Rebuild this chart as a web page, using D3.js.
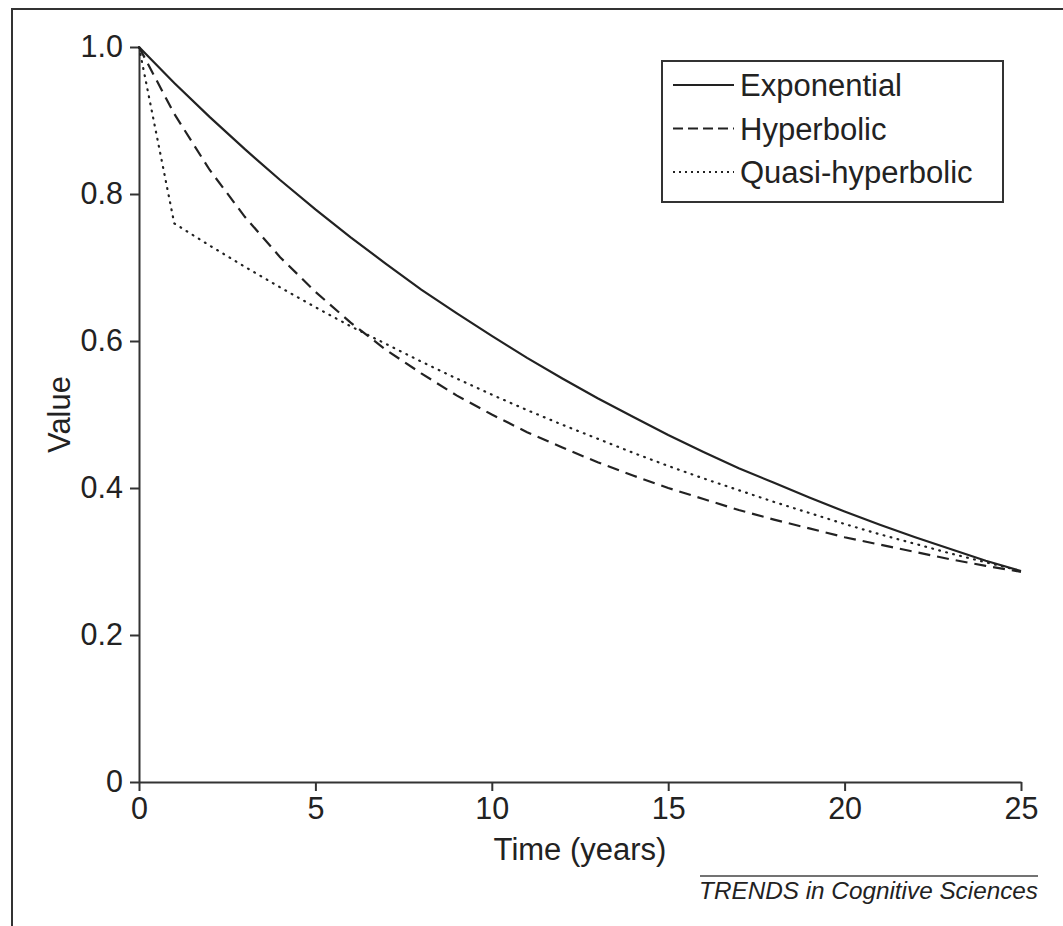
<!DOCTYPE html>
<html>
<head>
    <style>
        body {
            margin: 0;
            background-color: #fff;
            font-family: "Liberation Sans", Arial, sans-serif;
        }

        .axis path,
        .axis line {
            stroke: #333;
            stroke-width: 2px;
        }

        .axis text {
            font-family: "Liberation Sans", Arial, sans-serif;
            font-size: 30.5px;
            fill: #222;
        }

        .curve {
            fill: none;
            stroke: #222;
            stroke-width: 2.2px;
        }
    </style>
</head>
<body>
    <div id="chart"></div>

    <script src="https://d3js.org/d3.v7.min.js"></script>
    <script>
        // years 0..25, values
        var years = d3.range(0, 26);

        var exponential = [1.000, 0.951, 0.905, 0.861, 0.819, 0.779, 0.741, 0.705, 0.670, 0.638,
            0.607, 0.577, 0.549, 0.522, 0.497, 0.472, 0.449, 0.427, 0.407, 0.387,
            0.368, 0.350, 0.333, 0.317, 0.301, 0.287];

        var hyperbolic = [1.000, 0.909, 0.833, 0.769, 0.714, 0.667, 0.625, 0.588, 0.556, 0.526,
            0.500, 0.476, 0.455, 0.435, 0.417, 0.400, 0.385, 0.370, 0.357, 0.345,
            0.333, 0.323, 0.313, 0.303, 0.294, 0.286];

        var quasiHyperbolic = [1.000, 0.760, 0.730, 0.701, 0.673, 0.646, 0.620, 0.596, 0.572, 0.549,
            0.527, 0.506, 0.486, 0.467, 0.448, 0.430, 0.413, 0.397, 0.381, 0.366,
            0.351, 0.337, 0.324, 0.311, 0.299, 0.287];

        var seriesNames = ["Exponential", "Hyperbolic", "Quasi-hyperbolic"];
        var dashes = [null, "12,7", "0.8,6.4"];

        var xTicks = [0, 5, 10, 15, 20, 25];
        var yTicks = [0, 0.2, 0.4, 0.6, 0.8, 1.0];

        var width = 1063, height = 926;
        var margin = {top: 47, right: 42, bottom: 144, left: 139};

        var svg = d3.select("#chart").append("svg")
            .attr("width", width)
            .attr("height", height);

        // outer frame (only top and left edges are visible)
        svg.append("path")
            .attr("d", "M12," + height + " L12,9 L" + width + ",9")
            .attr("fill", "none")
            .attr("stroke", "#333")
            .attr("stroke-width", 2);

        var x = d3.scaleLinear()
            .domain([0, 25])
            .range([margin.left, width - margin.right]);

        var y = d3.scaleLinear()
            .domain([0, 1])
            .range([height - margin.bottom, margin.top]);

        svg.append("g")
            .attr("class", "axis")
            .attr("transform", "translate(0," + y(0) + ")")
            .call(d3.axisBottom(x).tickValues(xTicks).tickSize(9).tickSizeOuter(0).tickPadding(6));

        svg.append("g")
            .attr("class", "axis")
            .attr("transform", "translate(" + x(0) + ",0)")
            .call(d3.axisLeft(y).tickValues(yTicks).tickSize(9).tickSizeOuter(0).tickPadding(7)
                .tickFormat(function(d) { return d === 0 ? "0" : d3.format(".1f")(d); }));

        svg.selectAll(".axis .domain").attr("stroke-width", 2);

        // axis titles
        svg.append("text")
            .attr("x", (x(0) + x(25)) / 2)
            .attr("y", 860)
            .attr("text-anchor", "middle")
            .attr("font-size", 31)
            .attr("fill", "#222")
            .text("Time (years)");

        svg.append("text")
            .attr("transform", "translate(70," + (y(0) + y(1)) / 2 + ") rotate(-90)")
            .attr("text-anchor", "middle")
            .attr("font-size", 31)
            .attr("fill", "#222")
            .text("Value");

        // curves
        var line = d3.line()
            .x(function(d, i) { return x(years[i]); })
            .y(function(d) { return y(d); });

        var allSeries = [exponential, hyperbolic, quasiHyperbolic];

        svg.selectAll("path.curve")
            .data(allSeries)
            .enter().append("path")
            .attr("class", "curve")
            .attr("d", line)
            .attr("stroke-dasharray", function(d, i) { return dashes[i]; })
            .attr("stroke-width", function(d, i) { return i === 2 ? 2.8 : 2.2; })
            .attr("stroke-linecap", function(d, i) { return i === 2 ? "round" : "butt"; });

        // legend
        var legend = svg.append("g").attr("transform", "translate(662,61)");

        legend.append("rect")
            .attr("width", 341)
            .attr("height", 141)
            .attr("fill", "#fff")
            .attr("stroke", "#333")
            .attr("stroke-width", 2);

        var item = legend.selectAll("g.item")
            .data(seriesNames)
            .enter().append("g")
            .attr("class", "item")
            .attr("transform", function(d, i) { return "translate(0," + (24 + i * 43.5) + ")"; });

        item.append("line")
            .attr("x1", 11)
            .attr("x2", 72)
            .attr("stroke", "#222")
            .attr("stroke-width", 2)
            .attr("stroke-dasharray", function(d, i) { return i === 1 ? "10,5" : (i === 2 ? "2,4" : null); });

        item.append("text")
            .attr("x", 78)
            .attr("y", 11)
            .attr("font-size", 31)
            .attr("fill", "#222")
            .text(function(d) { return d; });

        // source note
        svg.append("line")
            .attr("x1", 700)
            .attr("x2", 1038)
            .attr("y1", 876)
            .attr("y2", 876)
            .attr("stroke", "#444")
            .attr("stroke-width", 1.5);

        svg.append("text")
            .attr("x", 1038)
            .attr("y", 899)
            .attr("text-anchor", "end")
            .attr("font-size", 24.3)
            .attr("font-style", "italic")
            .attr("fill", "#222")
            .text("TRENDS in Cognitive Sciences");
    </script>
</body>
</html>
